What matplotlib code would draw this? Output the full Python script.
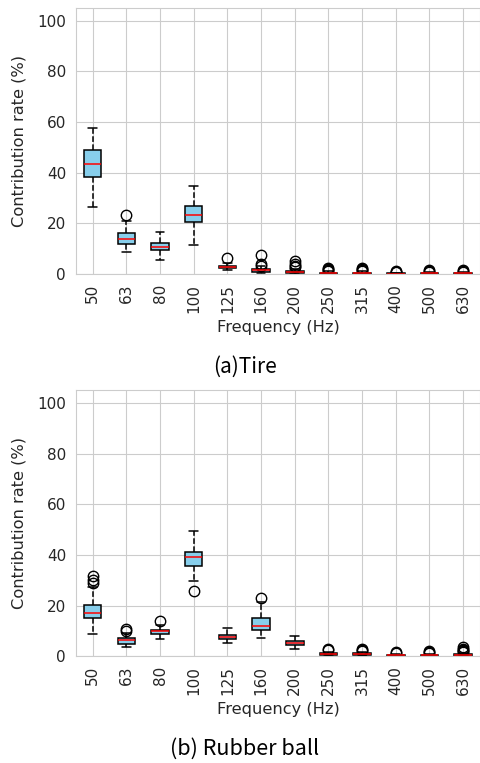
import matplotlib
matplotlib.use("Agg")
import matplotlib.pyplot as plt
import seaborn as sns

sns.set_style("whitegrid")
plt.rcParams['font.family'] = ['DejaVu Sans']

freqs = ["50", "63", "80", "100", "125", "160", "200", "250", "315", "400", "500", "630"]

# Tire: box statistics (%)
tire_med = [43.6, 13.7, 10.8, 23.1, 2.8, 1.6, 0.8, 0.3, 0.3, 0.1, 0.2, 0.2]
tire_q1 = [38.1, 11.7, 9.3, 20.6, 2.2, 0.9, 0.4, 0.1, 0.1, 0.0, 0.05, 0.05]
tire_q3 = [49.1, 16.0, 12.1, 27.0, 3.1, 2.0, 1.2, 0.5, 0.5, 0.2, 0.3, 0.3]
tire_lo = [26.5, 8.5, 5.4, 11.3, 1.6, 0.2, 0.0, 0.0, 0.0, 0.0, 0.0, 0.0]
tire_hi = [57.8, 21.0, 16.4, 34.9, 4.2, 3.0, 1.8, 1.0, 1.0, 0.4, 0.6, 0.6]
tire_fl = [[], [23.2], [], [], [6.2],
           [7.5, 3.8, 3.2], [5.2, 4.0, 3.1, 2.6],
           [2.4, 2.0, 1.6, 1.3], [2.5, 2.0, 1.6, 1.3],
           [1.2, 0.9, 0.7], [1.5, 1.1, 0.9], [1.5, 1.1, 0.9]]

# Rubber ball
ball_med = [17.2, 6.3, 9.8, 39.1, 7.7, 11.9, 5.2, 1.0, 0.8, 0.3, 0.4, 0.5]
ball_q1 = [15.1, 5.0, 8.9, 35.7, 6.6, 10.2, 4.3, 0.6, 0.5, 0.1, 0.2, 0.2]
ball_q3 = [20.4, 7.1, 10.5, 41.3, 8.5, 15.2, 6.0, 1.3, 1.1, 0.5, 0.6, 0.8]
ball_lo = [8.9, 3.7, 6.6, 29.6, 5.4, 7.0, 2.9, 0.1, 0.0, 0.0, 0.0, 0.0]
ball_hi = [27.5, 9.0, 12.2, 49.6, 11.1, 21.4, 7.9, 1.8, 1.7, 0.8, 1.0, 1.4]
ball_fl = [[31.5, 29.9, 28.9], [10.7, 10.0], [13.8], [25.7], [],
           [23.0], [],
           [3.0, 2.4], [3.0, 2.4, 2.0], [1.5, 1.1],
           [2.2, 1.7, 1.3], [3.5, 3.0, 2.5, 2.0, 1.6]]

fig = plt.figure(figsize=(4.8, 7.63), dpi=100)
ax1 = fig.add_axes([0.158, 0.641, 0.842, 0.3485])
ax2 = fig.add_axes([0.158, 0.140, 0.842, 0.3485])


def draw(ax, med, q1, q3, lo, hi, fl):
    stats = []
    for i in range(len(freqs)):
        stats.append(dict(med=med[i], q1=q1[i], q3=q3[i], whislo=lo[i],
                          whishi=hi[i], fliers=fl[i], label=freqs[i]))
    ax.bxp(stats, patch_artist=True, widths=0.52,
           boxprops=dict(facecolor="skyblue", edgecolor="black", linewidth=1.1),
           medianprops=dict(color="red", linewidth=1.1),
           whiskerprops=dict(color="black", linestyle="--", linewidth=1.1),
           capprops=dict(color="black", linewidth=1.1),
           flierprops=dict(marker="o", markerfacecolor="none",
                           markeredgecolor="black", markersize=7.5))
    ax.set_ylim(0, 105)
    ax.set_xlim(0.5, len(freqs) + 0.5)
    ax.set_yticks([0, 20, 40, 60, 80, 100])
    ax.tick_params(axis="x", labelrotation=90, labelsize=11)
    ax.tick_params(axis="y", labelsize=11)
    ax.set_ylabel("Contribution rate (%)", fontsize=11.7, labelpad=8)
    ax.set_xlabel("Frequency (Hz)", fontsize=11.7, labelpad=5)
    ax.grid(True, color="#cccccc")


draw(ax1, tire_med, tire_q1, tire_q3, tire_lo, tire_hi, tire_fl)
draw(ax2, ball_med, ball_q1, ball_q3, ball_lo, ball_hi, ball_fl)

# subplot captions
fig.text(0.51, 1 - 367 / 763, "(a)Tire", ha="center", va="center", color="black",
         fontsize=15, family=["Noto Sans CJK KR", "DejaVu Sans"])
fig.text(0.51, 1 - 749 / 763, "(b) Rubber ball", ha="center", va="center", color="black",
         fontsize=15.5, family=["Noto Sans CJK KR", "DejaVu Sans"])

fig.savefig("out.png", dpi=100)
